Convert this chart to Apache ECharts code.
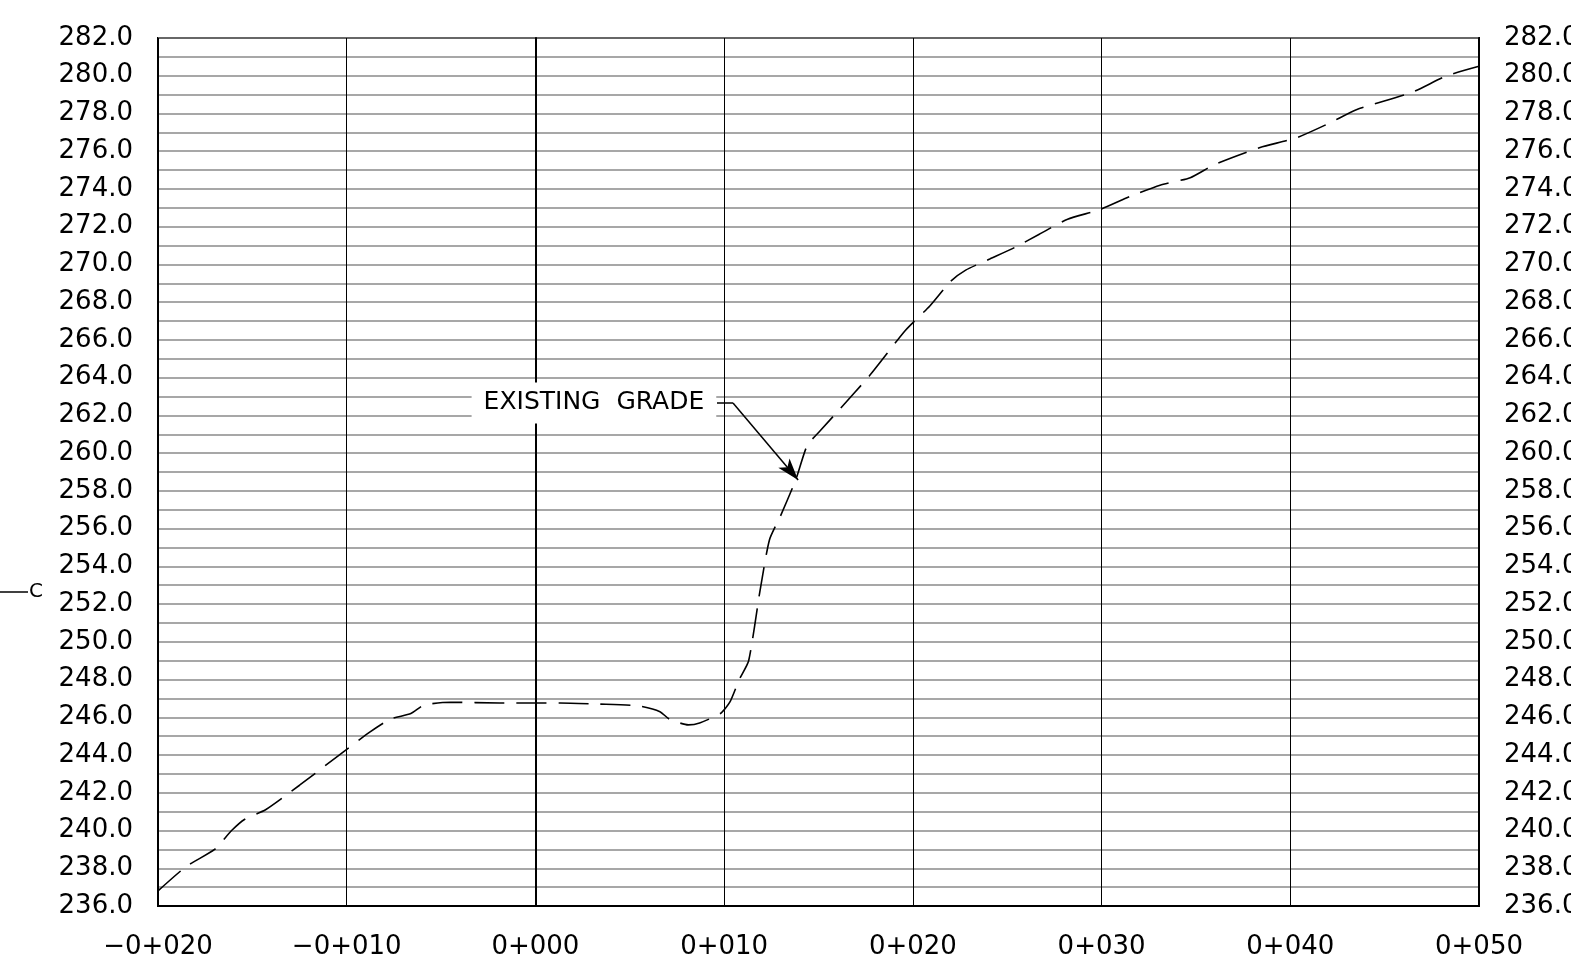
<!DOCTYPE html>
<html>
<head>
<meta charset="utf-8">
<script src="https://cdn.jsdelivr.net/npm/echarts@6/dist/echarts.min.js"></script>
<style>
html,body{margin:0;padding:0;background:#fff;}
#chart{width:1571px;height:961px;}
</style>
</head>
<body>
<div id="chart"></div>
<script>
// Station offsets (m) and existing grade elevations
const stations = [-20, -18.5, -17.0, -16.1, -15.4, -14.3, -12.5, -10.4, -8.8, -7.7, -6.6, -5.9, -4.5, -1.9, 1.3, 3.4, 5.5, 6.6, 7.1, 8.1, 8.7, 9.8, 10.3, 10.8, 11.3, 11.9, 12.4, 13.0, 13.8, 14.4, 15.1, 16.1, 17.7, 19.6, 20.9, 22.0, 22.8, 24.1, 25.4, 26.7, 28.2, 29.9, 31.5, 33.1, 34.7, 36.0, 38.4, 40.3, 42.1, 43.5, 46.4, 48.3, 50];
const elevations = [236.8, 238.1, 239.0, 240.0, 240.6, 241.1, 242.4, 244.0, 245.2, 245.9, 246.2, 246.65, 246.8, 246.76, 246.76, 246.7, 246.6, 246.3, 245.9, 245.6, 245.7, 246.2, 246.8, 248.0, 249.0, 252.7, 255.4, 256.7, 258.6, 260.4, 261.2, 262.3, 264.1, 266.5, 267.8, 269.1, 269.7, 270.3, 270.9, 271.6, 272.4, 272.9, 273.6, 274.2, 274.6, 275.3, 276.2, 276.7, 277.5, 278.2, 279.1, 280.0, 280.5];
const xRange = [-20, 50];
const yRange = [236, 282];
const labelText = 'EXISTING  GRADE';
const labelAnchor = [3.1, 262.66];
const leaderPts = [[9.62, 262.66], [10.47, 262.66], [13.92, 258.58]];

const FONT = 'DejaVu Sans';
const fmtStation = v => (v < 0 ? '\u2212' : '') + '0+' + String(Math.abs(v)).padStart(3, '0');
const fmtElev = v => (Math.round(v) % 2 === 0) ? v.toFixed(1) : '';

const chart = echarts.init(document.getElementById('chart'));
const yCommon = {
  type: 'value', min: yRange[0], max: yRange[1], interval: 1,
  axisLine: {show: true, lineStyle: {color: '#000', width: 2}},
  axisTick: {show: false},
  axisLabel: {formatter: fmtElev, color: '#000', fontFamily: FONT, fontSize: 26, margin: 25},
};
chart.setOption({
  animation: false,
  backgroundColor: '#fff',
  grid: {left: 158, right: 92, top: 38, bottom: 55, show: true, borderColor: '#000', borderWidth: 2,
    containLabel: false, outerBoundsMode: 'none'},
  xAxis: {
    type: 'value', min: xRange[0], max: xRange[1], interval: 10,
    axisLine: {show: true, onZero: false, lineStyle: {color: '#000', width: 2}},
    axisTick: {show: false},
    splitLine: {show: true, lineStyle: {color: '#000', width: 1}},
    axisLabel: {formatter: fmtStation, color: '#000', fontFamily: FONT, fontSize: 26, margin: 28}
  },
  yAxis: [
    Object.assign({}, yCommon, {position: 'left', splitLine: {show: true, lineStyle: {color: '#8a8a8a', width: 1.5}}}),
    Object.assign({}, yCommon, {position: 'right', splitLine: {show: false}})
  ],
  series: [
    {
      type: 'line', data: stations.map((s, i) => [s, elevations[i]]),
      showSymbol: false, smooth: 0.2, z: 5,
      lineStyle: {color: '#000', width: 1.6, type: [30, 12]}
    },
    {
      type: 'scatter', data: [labelAnchor], symbolSize: 1, z: 6,
      itemStyle: {color: 'rgba(0,0,0,0)'},
      emphasis: {disabled: true},
      label: {show: true, position: 'inside', formatter: labelText, color: '#000', opacity: 1,
        textBorderWidth: 0, fontFamily: FONT, fontSize: 25,
        backgroundColor: '#fff', padding: [8, 12, 8, 12]},
      markLine: {
        silent: true, symbol: ['none', 'none'], label: {show: false},
        lineStyle: {color: '#000', width: 1.5, type: 'solid'},
        data: [[{coord: leaderPts[0]}, {coord: leaderPts[1]}]]
      }
    },
    {
      type: 'line', data: [], z: 7,
      markLine: {
        silent: true, symbol: ['none', 'arrow'], symbolSize: [11, 22], label: {show: false},
        lineStyle: {color: '#000', width: 1.5, type: 'solid'},
        data: [[{coord: leaderPts[1]}, {coord: leaderPts[2]}]]
      }
    }
  ],
  graphic: [
    {type: 'line', shape: {x1: 0, y1: 592, x2: 28, y2: 592}, style: {stroke: '#000', lineWidth: 1.5}},
    {type: 'text', x: 29, y: 592, style: {text: 'C', fontFamily: FONT, fontSize: 20, fill: '#000', verticalAlign: 'middle'}}
  ]
});
</script>
</body>
</html>
